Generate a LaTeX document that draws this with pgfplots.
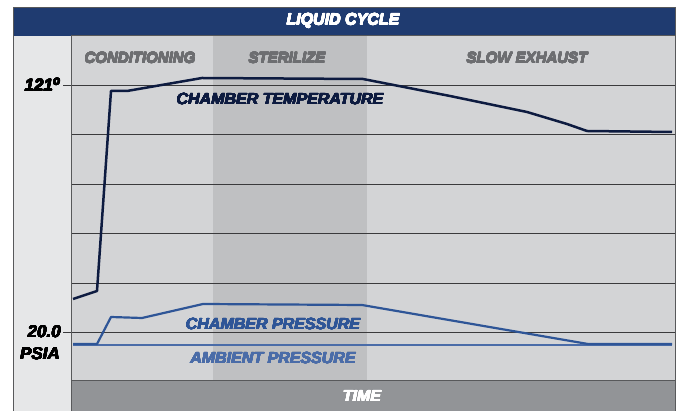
\documentclass[border=0pt]{standalone}
\usepackage{pgfplots}
\pgfplotsset{compat=1.18}
\usepackage{fontspec}
\setmainfont{Liberation Sans}
\usepackage[copies]{contour}
\contourlength{0.25pt}
\contournumber{16}
\newcommand{\hv}[2]{\textcolor{#1}{\contour{#1}{#2}}}
\definecolor{titlebar}{HTML}{1F3B70}
\definecolor{tempc}{HTML}{0D1B40}
\definecolor{presc}{HTML}{2E5597}
\definecolor{ambc}{HTML}{4A6CA8}
\definecolor{phaselight}{HTML}{D3D4D6}
\definecolor{phasedark}{HTML}{BFC0C2}
\definecolor{leftpanel}{HTML}{E6E7E8}
\definecolor{timebar}{HTML}{929497}
\definecolor{phasetxt}{HTML}{6D6E71}
\definecolor{gridc}{HTML}{3A3A3C}
\definecolor{framec}{HTML}{58595B}

\pgfplotstableread{
x y
2 82
26 90
40 290
56 290
131 303
292 302
379 285
456 269
496 257
516 250
601 249
}\temperature

\pgfplotstableread{
x y
2 37
26 37
40 64
71 63
132 77
291 76
517 37
601 37
}\chamberpressure

\pgfplotstableread{
x y
2 36
601 36
}\ambientpressure

\begin{document}
\begin{tikzpicture}
\path (0pt,0pt) rectangle (680pt,411pt);
\begin{axis}[
  at={(71pt,30pt)}, anchor=south west,
  scale only axis, width=604pt, height=345pt,
  xmin=0, xmax=604, ymin=0, ymax=345,
  clip=false,
  set layers,
  axis line style={draw=framec, line width=1pt},
  xtick=\empty,
  ytick pos=left,
  ytick={98,148,197,247},
  yticklabels={},
  major tick length=0pt,
  ymajorgrids,
  grid style={draw=gridc, line width=0.8pt},
  extra y ticks={49,296},
  extra y tick labels={\hv{black}{20.0},\hv{black}{121\textsuperscript{o}}},
  extra y tick style={grid=major, major tick length=8pt, tick align=outside,
    tick style={draw=gridc, line width=0.8pt}},
  yticklabel style={font=\fontsize{17}{20}\selectfont\bfseries\itshape, text=black, inner sep=2pt},
]
\begin{pgfonlayer}{axis background}
\fill[leftpanel] (axis cs:-58,-30) rectangle (axis cs:0,345);
\fill[titlebar] (axis cs:-58,345) rectangle (axis cs:604,374);
\fill[timebar] (axis cs:0,-30) rectangle (axis cs:604,0);
\fill[phaselight] (axis cs:0,0) rectangle (axis cs:142,345);
\fill[phasedark] (axis cs:142,0) rectangle (axis cs:296,345);
\fill[phaselight] (axis cs:296,0) rectangle (axis cs:604,345);
\end{pgfonlayer}
\addplot[ambc, line width=1.8pt] table[x=x,y=y] {\ambientpressure};
\addplot[presc, line width=2.2pt, line join=round] table[x=x,y=y] {\chamberpressure};
\addplot[tempc, line width=2.5pt, line join=round] table[x=x,y=y] {\temperature};
\node[font=\fontsize{15}{18}\selectfont\bfseries\itshape] at (axis cs:69,323) {\hv{phasetxt}{CONDITIONING}};
\node[font=\fontsize{15}{18}\selectfont\bfseries\itshape] at (axis cs:216,323) {\hv{phasetxt}{STERILIZE}};
\node[font=\fontsize{15}{18}\selectfont\bfseries\itshape] at (axis cs:456,323) {\hv{phasetxt}{SLOW EXHAUST}};
\node[font=\fontsize{16}{19}\selectfont\bfseries\itshape] at (axis cs:209,282) {\hv{tempc}{CHAMBER TEMPERATURE}};
\node[font=\fontsize{16}{19}\selectfont\bfseries\itshape] at (axis cs:202,57) {\hv{presc}{CHAMBER PRESSURE}};
\node[font=\fontsize{16}{19}\selectfont\bfseries\itshape] at (axis cs:202,23) {\hv{ambc}{AMBIENT PRESSURE}};
\node[font=\fontsize{17}{20}\selectfont\bfseries\itshape] at (axis cs:-31,27) {\hv{black}{PSIA}};
\node[font=\fontsize{16}{19}\selectfont\bfseries\itshape] at (axis cs:272,360) {\hv{white}{LIQUID CYCLE}};
\node[font=\fontsize{16}{19}\selectfont\bfseries\itshape] at (axis cs:291,-15) {\hv{white}{TIME}};
\end{axis}
\draw[framec, line width=0.8pt] (13pt,0pt) -- (13pt,404pt) -- (675pt,404pt) -- (675pt,0pt);
\draw[framec, line width=1pt] (71pt,0pt) -- (71pt,30pt);
\end{tikzpicture}
\end{document}
